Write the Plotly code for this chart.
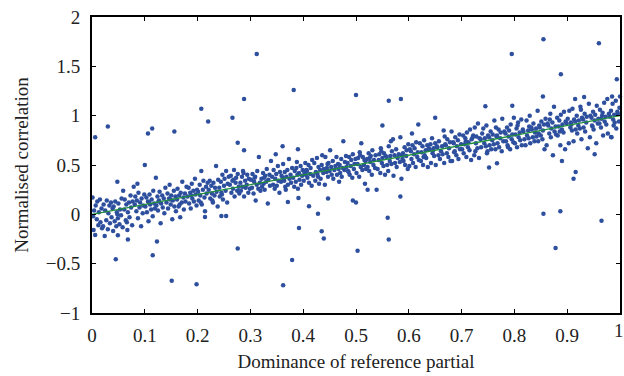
import plotly.graph_objects as go

# Main cloud of points (dominance, normalised correlation), read bin by bin
band_x = [
0.001,0.003,0.004,0.006,0.007,0.009,0.010,0.012,0.013,0.015,0.016,0.018,0.019,0.002,
0.021,0.022,0.024,0.025,0.027,0.028,0.030,0.031,0.033,0.034,0.036,0.037,0.039,0.040,
0.041,0.043,0.044,0.046,0.047,0.049,0.050,0.052,0.053,0.055,0.056,0.058,0.059,0.048,
0.061,0.062,0.064,0.065,0.067,0.068,0.070,0.071,0.073,0.074,0.076,0.077,0.079,0.066,
0.081,0.082,0.084,0.085,0.087,0.088,0.090,0.091,0.093,0.094,0.096,0.097,0.099,0.086,
0.101,0.103,0.104,0.106,0.107,0.109,0.110,0.112,0.113,0.115,0.116,0.118,0.119,0.108,
0.121,0.122,0.124,0.125,0.127,0.128,0.130,0.131,0.133,0.134,0.136,0.137,0.139,0.126,
0.141,0.143,0.144,0.146,0.147,0.149,0.150,0.152,0.153,0.155,0.156,0.158,0.159,0.148,
0.161,0.162,0.164,0.165,0.167,0.168,0.170,0.171,0.173,0.174,0.176,0.177,0.179,0.166,
0.181,0.183,0.184,0.186,0.187,0.189,0.190,0.192,0.193,0.195,0.196,0.198,0.199,0.188,
0.201,0.202,0.204,0.205,0.207,0.208,0.210,0.211,0.213,0.214,0.216,0.217,0.219,0.206,
0.221,0.223,0.224,0.226,0.227,0.229,0.230,0.232,0.233,0.235,0.236,0.238,0.239,0.228,
0.241,0.242,0.244,0.245,0.247,0.248,0.250,0.251,0.253,0.254,0.256,0.257,0.259,0.246,
0.261,0.263,0.264,0.266,0.267,0.269,0.270,0.272,0.273,0.275,0.276,0.278,0.279,0.268,
0.281,0.282,0.284,0.285,0.287,0.288,0.290,0.291,0.293,0.294,0.296,0.297,0.299,0.286,
0.301,0.303,0.304,0.306,0.307,0.309,0.310,0.312,0.313,0.315,0.316,0.318,0.319,0.308,
0.321,0.322,0.324,0.325,0.327,0.328,0.330,0.331,0.333,0.334,0.336,0.337,0.339,0.326,
0.341,0.343,0.344,0.346,0.347,0.349,0.350,0.352,0.353,0.355,0.356,0.358,0.359,0.348,
0.361,0.362,0.364,0.365,0.367,0.368,0.370,0.371,0.373,0.374,0.376,0.377,0.379,0.366,
0.381,0.383,0.384,0.386,0.387,0.389,0.390,0.392,0.393,0.395,0.396,0.398,0.399,0.388,
0.401,0.402,0.404,0.405,0.407,0.408,0.410,0.411,0.413,0.414,0.416,0.417,0.419,0.406,
0.421,0.423,0.424,0.426,0.427,0.429,0.430,0.432,0.433,0.435,0.436,0.438,0.439,0.428,
0.441,0.442,0.444,0.445,0.447,0.448,0.450,0.451,0.453,0.454,0.456,0.457,0.459,0.446,
0.461,0.463,0.464,0.466,0.467,0.469,0.470,0.472,0.473,0.475,0.476,0.478,0.479,0.468,
0.481,0.482,0.484,0.485,0.487,0.488,0.490,0.491,0.493,0.494,0.496,0.497,0.499,0.486,
0.501,0.503,0.504,0.506,0.507,0.509,0.510,0.512,0.513,0.515,0.516,0.518,0.519,0.508,
0.521,0.522,0.524,0.525,0.527,0.528,0.530,0.531,0.533,0.534,0.536,0.537,0.539,0.526,
0.541,0.543,0.544,0.546,0.547,0.549,0.550,0.552,0.553,0.555,0.556,0.558,0.559,0.548,
0.561,0.562,0.564,0.565,0.567,0.568,0.570,0.571,0.573,0.574,0.576,0.577,0.579,0.566,
0.581,0.583,0.584,0.586,0.587,0.589,0.590,0.592,0.593,0.595,0.596,0.598,0.599,0.588,
0.601,0.602,0.604,0.605,0.607,0.608,0.610,0.611,0.613,0.614,0.616,0.617,0.619,0.606,
0.621,0.623,0.624,0.626,0.627,0.629,0.630,0.632,0.633,0.635,0.636,0.638,0.639,0.628,
0.641,0.642,0.644,0.645,0.647,0.648,0.650,0.651,0.653,0.654,0.656,0.657,0.659,0.646,
0.661,0.663,0.664,0.666,0.667,0.669,0.670,0.672,0.673,0.675,0.676,0.678,0.679,0.668,
0.681,0.682,0.684,0.685,0.687,0.688,0.690,0.691,0.693,0.694,0.696,0.697,0.699,0.686,
0.701,0.703,0.704,0.706,0.707,0.709,0.710,0.712,0.713,0.715,0.716,0.718,0.719,0.708,
0.721,0.722,0.724,0.725,0.727,0.728,0.730,0.731,0.733,0.734,0.736,0.737,0.739,0.726,
0.741,0.743,0.744,0.746,0.747,0.749,0.750,0.752,0.753,0.755,0.756,0.758,0.759,0.748,
0.761,0.762,0.764,0.765,0.767,0.768,0.770,0.771,0.773,0.774,0.776,0.777,0.779,0.766,
0.781,0.783,0.784,0.786,0.787,0.789,0.790,0.792,0.793,0.795,0.796,0.798,0.799,0.788,
0.801,0.802,0.804,0.805,0.807,0.808,0.810,0.811,0.813,0.814,0.816,0.817,0.819,0.806,
0.821,0.823,0.824,0.826,0.827,0.829,0.830,0.832,0.833,0.835,0.836,0.838,0.839,0.828,
0.841,0.842,0.844,0.845,0.847,0.848,0.850,0.851,0.853,0.854,0.856,0.857,0.859,0.846,
0.861,0.863,0.864,0.866,0.867,0.869,0.870,0.872,0.873,0.875,0.876,0.878,0.879,0.868,
0.881,0.882,0.884,0.885,0.887,0.888,0.890,0.891,0.893,0.894,0.896,0.897,0.899,0.886,
0.901,0.903,0.904,0.906,0.907,0.909,0.910,0.912,0.913,0.915,0.916,0.918,0.919,0.908,
0.921,0.922,0.924,0.925,0.927,0.928,0.930,0.931,0.933,0.934,0.936,0.937,0.939,0.926,
0.941,0.943,0.944,0.946,0.947,0.949,0.950,0.952,0.953,0.955,0.956,0.958,0.959,0.948,
0.961,0.962,0.964,0.965,0.967,0.968,0.970,0.971,0.973,0.974,0.976,0.977,0.979,0.966,
0.981,0.983,0.984,0.986,0.987,0.989,0.990,0.992,0.993,0.995,0.996,0.998,0.999,0.988,
]
band_y = [
0.17,-0.16,0.04,-0.21,0.09,-0.05,0.13,-0.11,0.02,0.15,-0.08,0.06,-0.14,-0.02,
-0.12,0.10,-0.22,0.04,-0.06,0.14,-0.15,0.01,0.09,-0.09,0.12,-0.03,0.06,-0.17,
0.08,-0.07,0.13,-0.12,0.02,-0.04,0.11,-0.10,0.05,-0.01,0.16,-0.13,0.24,0.00,
0.05,0.15,-0.06,0.10,-0.16,0.02,0.12,-0.03,0.19,0.07,-0.11,0.13,0.28,-0.08,
0.10,0.18,0.03,0.14,-0.04,0.22,0.07,0.12,-0.12,0.16,0.01,0.09,0.20,0.31,
0.08,0.17,0.02,0.13,-0.07,0.20,0.10,0.05,0.15,-0.02,0.24,0.11,0.06,0.12,
0.37,0.09,0.18,0.04,0.14,0.23,-0.09,0.11,0.19,0.07,0.16,0.01,0.27,0.13,
0.12,0.21,0.06,0.16,0.30,0.10,0.19,-0.05,0.14,0.24,0.08,0.18,0.03,0.15,
0.15,0.26,0.08,0.19,-0.03,0.22,0.12,0.33,0.17,0.05,0.21,0.13,0.28,0.10,
0.18,0.27,0.11,0.22,0.06,0.31,0.16,0.24,0.13,0.36,0.20,0.09,0.25,0.19,
0.23,0.14,0.30,0.19,0.44,0.10,0.25,0.34,0.17,0.03,0.28,0.21,0.32,0.12,
0.25,0.34,0.16,0.29,0.21,0.12,0.32,0.19,0.27,0.49,0.23,0.08,0.35,0.14,
0.27,0.18,0.33,0.22,0.40,0.15,0.29,0.36,0.24,0.44,0.12,0.31,0.38,0.20,
0.30,0.39,0.22,0.34,0.26,0.45,0.18,0.32,0.37,0.24,0.41,0.28,0.21,0.35,
0.32,0.24,0.38,0.28,0.42,0.18,0.34,0.27,0.30,0.40,0.22,0.36,0.26,0.44,
0.35,0.27,0.41,0.21,0.33,0.38,0.14,0.30,0.44,0.26,0.58,0.32,0.24,0.37,
0.36,0.28,0.42,0.31,0.25,0.39,0.33,0.46,0.11,0.35,0.40,0.29,0.54,0.37,
0.38,0.30,0.45,0.26,0.36,0.41,0.29,0.49,0.34,0.22,0.43,0.33,0.39,0.61,
0.37,0.51,0.34,0.43,0.25,0.38,0.45,0.30,0.56,0.36,0.40,0.32,0.47,0.28,
0.37,0.28,0.44,0.33,0.47,0.40,0.26,0.42,0.35,0.49,0.30,0.39,0.45,0.53,
0.34,0.43,0.52,0.40,0.44,0.37,0.50,0.32,0.41,0.47,0.29,0.55,0.39,0.45,
0.52,0.34,0.43,0.57,0.41,0.48,0.31,0.45,0.36,0.50,0.60,0.42,0.46,0.38,
0.30,0.58,0.43,0.47,0.38,0.52,0.44,0.65,0.48,0.40,0.54,0.36,0.45,0.51,
0.49,0.58,0.40,0.51,0.46,0.50,0.42,0.56,0.38,0.47,0.74,0.45,0.53,0.33,
0.59,0.48,0.52,0.44,0.58,0.40,0.49,0.55,0.37,0.61,0.46,0.51,0.56,0.43,
0.42,0.51,0.57,0.38,0.63,0.48,0.72,0.45,0.58,0.50,0.55,0.54,0.46,0.60,
0.56,0.48,0.62,0.44,0.53,0.59,0.40,0.65,0.50,0.55,0.47,0.60,0.25,0.57,
0.46,0.55,0.61,0.42,0.67,0.52,0.57,0.49,0.62,0.40,0.59,0.58,0.50,0.64,
0.44,0.69,0.54,0.59,0.51,0.64,0.76,0.39,0.60,0.52,0.66,0.48,0.57,0.74,
0.61,0.53,0.78,0.36,0.60,0.62,0.54,0.68,0.50,0.59,0.65,0.46,0.71,0.56,
0.49,0.66,0.64,0.56,0.70,0.52,0.61,0.67,0.48,0.73,0.58,0.63,0.55,0.82,
0.72,0.54,0.63,0.69,0.50,0.75,0.60,0.65,0.57,0.70,0.48,0.67,0.66,0.58,
0.71,0.52,0.77,0.62,0.67,0.59,0.72,0.50,0.69,0.68,0.60,0.74,0.56,0.65,
0.64,0.69,0.61,0.85,0.52,0.71,0.70,0.62,0.76,0.58,0.67,0.73,0.54,0.79,
0.84,0.54,0.73,0.72,0.64,0.78,0.60,0.69,0.75,0.56,0.81,0.66,0.71,0.63,
0.66,0.80,0.62,0.71,0.77,0.58,0.83,0.68,0.73,0.65,0.86,0.55,0.76,0.74,
0.78,0.80,0.60,0.88,0.72,0.79,0.67,0.92,0.57,0.77,0.76,0.68,0.82,0.64,
0.87,0.72,0.77,0.69,0.90,0.64,0.80,0.78,0.70,0.84,0.66,0.75,0.81,0.62,
0.71,0.95,0.66,0.88,0.80,0.72,0.86,0.68,0.77,0.83,0.64,0.97,0.74,0.79,
0.84,0.82,0.74,0.88,0.70,0.79,0.85,0.66,0.91,0.76,0.81,0.73,0.98,0.68,
0.72,0.81,0.87,0.68,0.93,0.78,0.83,0.75,0.96,0.70,0.86,0.84,0.76,0.90,
0.70,0.95,0.80,0.85,0.77,1.00,0.72,0.88,0.86,0.78,0.92,0.74,0.83,0.89,
0.87,0.79,1.05,0.74,0.90,0.88,0.80,0.94,0.76,0.85,0.91,0.66,0.97,0.82,
0.70,0.92,0.90,0.82,0.96,0.78,0.87,0.93,0.60,1.09,0.84,0.89,0.81,1.02,
0.98,0.80,0.89,0.95,0.70,1.01,0.86,0.91,0.83,1.04,0.66,0.94,0.92,0.84,
0.97,0.72,1.05,0.88,0.93,0.85,1.07,0.74,0.96,0.94,0.86,1.00,0.82,0.91,
0.90,0.95,0.87,1.09,0.76,0.98,0.96,0.88,1.02,0.84,0.93,0.99,0.67,1.06,
1.12,0.78,1.00,0.98,0.90,1.04,0.86,0.95,1.01,0.72,1.10,0.92,0.97,0.89,
0.92,1.06,0.88,0.97,1.03,0.80,1.13,0.94,0.99,0.91,1.17,0.82,1.02,1.00,
0.99,1.05,0.78,1.12,0.96,1.01,0.93,1.15,0.87,1.04,1.02,0.94,1.08,0.90,
]

# Isolated points away from the main cloud
outlier_x = [0.006,0.030,0.106,0.114,0.100,0.156,0.207,0.220,0.266,0.288,0.312,0.276,0.288,
             0.382,0.361,0.390,0.500,0.562,0.585,0.550,0.618,0.650,0.745,0.795,0.796,0.855,
             0.854,0.888,0.960,0.994,0.985,1.000,0.915,0.932,
             0.045,0.049,0.048,0.068,0.115,0.123,0.151,0.198,0.276,0.254,0.245,0.214,0.362,
             0.379,0.392,0.411,0.428,0.435,0.439,0.447,0.391,0.371,0.494,0.500,0.503,0.560,
             0.562,0.584,0.855,0.887,0.878,0.965,0.890,0.912,0.916,0.952,0.983,0.752,0.767,
             0.522,0.517]
outlier_y = [0.78,0.89,0.82,0.87,0.50,0.84,1.07,0.94,0.98,1.17,1.625,0.726,0.65,
             1.26,0.69,0.66,1.21,1.15,1.17,0.90,0.91,0.98,1.095,1.625,1.10,1.775,
             1.195,1.42,1.735,1.37,1.195,1.195,1.17,1.19,
             -0.454,-0.213,0.33,-0.256,-0.414,-0.276,-0.672,-0.709,-0.347,-0.018,-0.018,-0.028,-0.719,
             -0.464,-0.139,0.083,0.005,-0.172,-0.246,0.16,0.166,0.126,0.14,0.12,-0.37,-0.035,
             -0.256,0.18,0.005,0.03,-0.34,-0.065,0.54,0.36,0.43,0.61,0.785,0.475,0.518,
             0.25,0.31]

# Fitted trend line
fit_x = [0.0, 1.0]
fit_y = [0.0, 1.0]

x_ticks = [0, 0.1, 0.2, 0.3, 0.4, 0.5, 0.6, 0.7, 0.8, 0.9, 1]
y_ticks = [-1, -0.5, 0, 0.5, 1, 1.5, 2]

dot_color = "#2d4f9e"
font_family = "Liberation Serif"
text_color = "#222"

fig = go.Figure()
fig.add_trace(go.Scatter(x=band_x + outlier_x, y=band_y + outlier_y, mode="markers",
                         marker=dict(size=4.5, color=dot_color, line=dict(width=0)),
                         showlegend=False, hoverinfo="x+y", cliponaxis=False))
fig.add_trace(go.Scatter(x=fit_x, y=fit_y, mode="lines",
                         line=dict(color="#1f8f3a", width=1.3), showlegend=False))

axis_common = dict(showgrid=False, zeroline=False, showline=True, linecolor="black",
                   linewidth=2, mirror="ticks", ticks="inside", ticklen=4, tickwidth=1,
                   tickcolor="black", automargin=False,
                   tickfont=dict(family=font_family, size=19, color=text_color))
# the last x label sits at the page edge, so it is drawn as an annotation below
x_ticktext = [("%g" % v) for v in x_ticks[:-1]] + [""]
fig.update_xaxes(range=[0, 1], tickvals=x_ticks, ticktext=x_ticktext,
                 ticklabelstandoff=4,
                 title=dict(text="Dominance of reference partial", standoff=10,
                            font=dict(family=font_family, size=19, color=text_color)),
                 **axis_common)
fig.update_yaxes(range=[-1, 2], tickvals=y_ticks,
                 ticktext=[("%g" % v).replace("-", "\u2212") for v in y_ticks],
                 ticklabelstandoff=6,
                 title=dict(text="Normalised correlation", standoff=12,
                            font=dict(family=font_family, size=19, color=text_color)),
                 **axis_common)
fig.add_annotation(x=x_ticks[-1], y=0, xref="x", yref="paper", text="%g" % x_ticks[-1],
                   showarrow=False, xanchor="center", yanchor="top", yshift=-5, xshift=-1,
                   font=dict(family=font_family, size=19, color=text_color))
fig.update_layout(width=624, height=376, margin=dict(l=92, r=4, t=17, b=63),
                  paper_bgcolor="white", plot_bgcolor="white")
fig.write_html("out.html", config={"displayModeBar": False},
               post_script="document.body.style.margin='0';document.body.style.overflow='hidden';")
